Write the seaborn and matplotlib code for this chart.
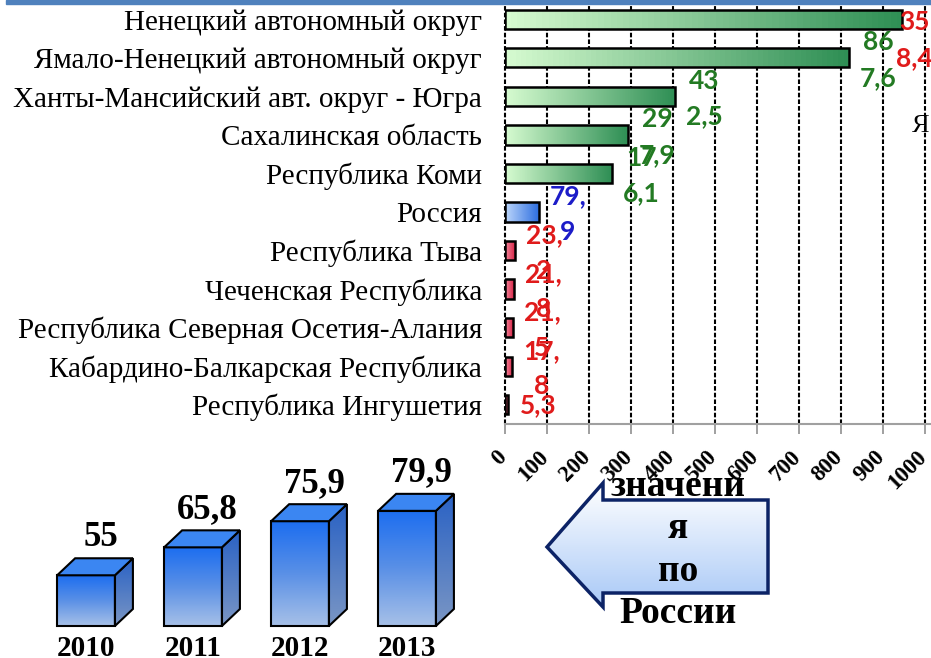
import numpy as np
import pandas as pd
import matplotlib
matplotlib.use('Agg')
import matplotlib.pyplot as plt
import matplotlib.transforms as mtransforms
import seaborn as sns
from matplotlib.patches import Polygon, Rectangle
from matplotlib.colors import LinearSegmentedColormap

# --- data ---
regions = ['Ненецкий автономный округ', 'Ямало-Ненецкий автономный округ',
           'Ханты-Мансийский авт. округ - Югра', 'Сахалинская область',
           'Республика Коми', 'Россия', 'Республика Тыва', 'Чеченская Республика',
           'Республика Северная Осетия-Алания', 'Кабардино-Балкарская Республика',
           'Республика Ингушетия']
values = [946, 818, 405, 292, 254, 79.9, 23, 21, 18, 17, 8]
groups = ['high'] * 5 + ['russia'] + ['low'] * 5
label_top = ['35', '86', '43', '29', '17', '79,', '23,', '21,', '21,', '17,', '5,3']
label_bottom = ['8,4', '7,6', '2,5', '7,9', '6,1', '9', '2', '8', '5', '8', '']
x_ticks = [0, 100, 200, 300, 400, 500, 600, 700, 800, 900, 1000]

years = ['2010', '2011', '2012', '2013']
russia_values = [55, 65.8, 75.9, 79.9]
russia_labels = ['55', '65,8', '75,9', '79,9']

# styles
label_colors = ['#e01b1b'] + ['#237a23'] * 4 + ['#1c1cc8'] + ['#e01b1b'] * 5
bar_grad = {'high': ('#d6fbd0', '#2f8f55'),
            'russia': ('#bcd6fb', '#2e6fe0'),
            'low': ('#f4889c', '#d8284a')}

plt.rcParams['font.family'] = ['Liberation Serif', 'DejaVu Sans']
W, H = 931, 658
fig = plt.figure(figsize=(W / 100, H / 100), dpi=100)


def box(l, t, r, b):
    return [l / W, 1 - b / H, (r - l) / W, (b - t) / H]


# --- main horizontal bar chart ---
ax = fig.add_axes(box(505, 0, 931, 424))
df = pd.DataFrame({'region': regions, 'value': values, 'group': groups})
sns.barplot(data=df, y='region', x='value', hue='group', dodge=False,
            palette={'high': '#6fbf8a', 'russia': '#6a9ef0', 'low': '#e04a66'},
            width=0.5, edgecolor='black', linewidth=1.8, legend=False, ax=ax)
ax.set_xlim(0, 1000 * 426 / 420)
ax.set_ylim(10.5, -0.5)

for p in list(ax.patches):
    x0, y0 = p.get_x(), p.get_y()
    w, h = p.get_width(), p.get_height()
    row = int(round(y0 + h / 2))
    c0, c1 = bar_grad[groups[row]]
    cmap = LinearSegmentedColormap.from_list('g', [c0, c1])
    im = ax.imshow(np.linspace(0, 1, 64).reshape(1, -1), cmap=cmap, aspect='auto',
                   extent=[x0, x0 + w, y0 + h, y0], zorder=p.get_zorder() + 0.1)
    im.set_clip_path(p)
    p.set_facecolor('none')
    p.set_zorder(p.get_zorder() + 0.2)
ax.set_xlim(0, 1000 * 426 / 420)
ax.set_ylim(10.5, -0.5)

ax.set_xticks(x_ticks)
ax.set_xticklabels([str(t) for t in x_ticks])
ax.grid(axis='x', color='black', linestyle=(0, (2.2, 1)), linewidth=1.5)
ax.set_axisbelow(True)
for gl in ax.get_xgridlines():
    gl.set_clip_on(False)
for s in ['left', 'top', 'right']:
    ax.spines[s].set_visible(False)
ax.spines['bottom'].set_color('#a0a0a0')
ax.spines['bottom'].set_linewidth(1.5)
ax.tick_params(axis='x', direction='out', length=7, width=1.2, color='#909090', pad=9)
ax.tick_params(axis='y', length=0, pad=16.5)
shift = mtransforms.ScaledTranslation(6 / 100, 0, fig.dpi_scale_trans)
for t in ax.get_xticklabels():
    t.set_rotation(45)
    t.set_ha('right')
    t.set_fontweight('bold')
    t.set_fontsize(16.5)
    t.set_transform(t.get_transform() + shift)
for t in ax.get_yticklabels():
    t.set_fontsize(21)
ax.set_xlabel('')
ax.set_ylabel('')

for i, v in enumerate(values):
    x = min(v + 70, 975)
    kw = dict(ha='center', va='center', color=label_colors[i], fontsize=19,
              fontweight='bold', family=['Lato', 'DejaVu Sans'], zorder=5)
    if label_bottom[i]:
        y1 = max(i - 0.4, 0.08)
        ax.text(x, y1, label_top[i], **kw)
        ax.text(x, y1 + 0.92, label_bottom[i], **kw)
    else:
        ax.text(x, i, label_top[i], **kw)

# --- small 3D column chart ---
ax2 = fig.add_axes(box(0, 456, 480, 626))
base = 35.4
sns.barplot(x=years, y=russia_values, width=0.54, color='#3a80ea',
            edgecolor='black', linewidth=1.5, ax=ax2)
ax2.set_xlim(-0.804, 3.682)
ax2.set_ylim(base, 101.1)
ax2.axis('off')
dx, dy = 18 / 107, 17 / 2.586
front_cmap = LinearSegmentedColormap.from_list('f', ['#a6c0e8', '#5a90e6', '#1d6ef0'])
side_cmap = LinearSegmentedColormap.from_list('s', ['#7a96c4', '#2a62c4'])
for i, p in enumerate(list(ax2.patches)):
    x0, w = p.get_x(), p.get_width()
    top = russia_values[i]
    x1 = x0 + w
    im = ax2.imshow(np.linspace(0, 1, 64).reshape(-1, 1), cmap=front_cmap, aspect='auto',
                    origin='lower', extent=[x0, x1, base, top], zorder=2)
    front = Rectangle((x0, base), w, top - base, transform=ax2.transData)
    im.set_clip_path(front)
    ax2.add_patch(Rectangle((x0, base), w, top - base, fill=False, edgecolor='black',
                            lw=1.5, zorder=4, clip_on=False))
    side = Polygon([(x1, base), (x1 + dx, base + dy), (x1 + dx, top + dy), (x1, top)],
                   closed=True, facecolor='none', edgecolor='black', lw=1.5, zorder=4,
                   clip_on=False)
    ims = ax2.imshow(np.linspace(0, 1, 64).reshape(-1, 1), cmap=side_cmap, aspect='auto',
                     origin='lower', extent=[x1, x1 + dx, base, top + dy], zorder=2)
    ims.set_clip_path(Polygon(side.get_xy(), transform=ax2.transData))
    ax2.add_patch(side)
    ax2.add_patch(Polygon([(x0, top), (x1, top), (x1 + dx, top + dy), (x0 + dx, top + dy)],
                          closed=True, facecolor='#3b86f2', edgecolor='black', lw=1.5,
                          zorder=4, clip_on=False))
    p.set_visible(False)
    ax2.annotate(russia_labels[i], (i + dx / 2, top + dy), xytext=(4, 15),
                 textcoords='offset points', ha='center', va='center',
                 fontsize=25, fontweight='bold', annotation_clip=False)
    ax2.annotate(years[i], (i, base), xytext=(0, -16), textcoords='offset points',
                 ha='center', va='center', fontsize=21, fontweight='bold',
                 annotation_clip=False)
ax2.set_xlim(-0.804, 3.682)
ax2.set_ylim(base, 101.1)

# --- overlay: arrow and decorations ---
axo = fig.add_axes([0, 0, 1, 1], zorder=-1)
axo.set_xlim(0, W)
axo.set_ylim(H, 0)
axo.axis('off')
arrow_pts = [(547, 547), (603, 483), (603, 500), (768, 500), (768, 593),
             (603, 593), (603, 607)]
arrow_cmap = LinearSegmentedColormap.from_list('a', ['#ffffff', '#a9c9f7'])
ima = axo.imshow(np.linspace(0, 1, 64).reshape(-1, 1), cmap=arrow_cmap, aspect='auto',
                 origin='upper', extent=[547, 768, 607, 483])
ima.set_clip_path(Polygon(arrow_pts, transform=axo.transData))
axo.add_patch(Polygon(arrow_pts, closed=True, facecolor='none', edgecolor='#0c2366',
                      lw=2.5, joinstyle='miter'))
axo.set_xlim(0, W)
axo.set_ylim(H, 0)
fig.text(678 / W, 1 - 550 / H, 'значени\nя\nпо\nРоссии', ha='center', va='center',
         fontsize=27, fontweight='bold', linespacing=1.27, zorder=10)
fig.patches.append(Rectangle((6 / W, 1 - 4 / H), 925 / W, 4 / H, transform=fig.transFigure,
                             color='#4f81bd', zorder=10))
fig.text(912 / W, 1 - 126 / H, 'Я', ha='left', va='center', fontsize=19)

fig.savefig('out.png', dpi=100)
